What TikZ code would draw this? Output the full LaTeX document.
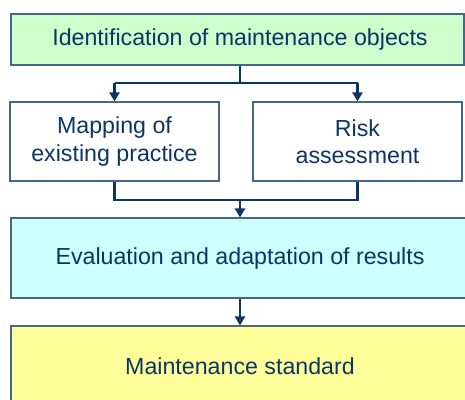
\documentclass[tikz,border=0pt]{standalone}
\usepackage{fontspec}
\setmainfont{Liberation Sans}
\usetikzlibrary{arrows.meta,calc}
\definecolor{navy}{HTML}{0B3564}
\definecolor{edge}{HTML}{46678A}
\definecolor{boxgreen}{HTML}{CCFFCC}
\definecolor{boxcyan}{HTML}{CCFFFF}
\definecolor{boxyellow}{HTML}{FFFF99}
\begin{document}
\begin{tikzpicture}[x=1pt,y=-1pt,
  stage/.style={draw=edge, line width=1.2pt, inner sep=0pt, text=navy,
    font=\fontsize{23.2}{27.5}\selectfont, align=center},
  flow/.style={draw=navy, line width=2.6pt,
    -{Triangle[width=10pt,length=9pt]}},
  linkline/.style={draw=navy, line width=2.6pt}]
\useasboundingbox (0,0) rectangle (465,399);
\clip (0,0) rectangle (465,399);

% process stages
\node[stage, fill=boxgreen, minimum width=453pt, minimum height=51pt]
  (ident) at (237.5,39.5) {\hspace*{5pt}Identification of maintenance objects};
\node[stage, fill=white, minimum width=209pt, minimum height=79pt]
  (map) at (114.5,141.5) {Mapping of\\existing practice};
\node[stage, fill=white, minimum width=209pt, minimum height=79pt]
  (risk) at (357.5,141.5) {Risk\\assessment};
\node[stage, fill=boxcyan, minimum width=458pt, minimum height=80pt]
  (eval) at (240,258) {Evaluation and adaptation of results};
\node[stage, fill=boxyellow, minimum width=458pt, minimum height=81pt]
  (std) at (240,366.5) {Maintenance standard};

% branch from identification to the two analyses
\coordinate (split) at (240,83);
\draw[linkline] (ident.south -| eval.north) -- (split);
\draw[flow] (split -| map.north) -- (map.north);
\draw[flow] (split -| risk.north) -- (risk.north);
\draw[linkline] (split -| map.north) -- (split -| risk.north);

% merge of the analyses into evaluation
\coordinate (merge) at (240,200);
\draw[linkline] (map.south) -- (merge -| map.south) -- (merge -| risk.south) -- (risk.south);
\draw[flow] (merge) -- (eval.north);

% evaluation leads to the standard
\draw[flow] (eval.south) -- (std.north);
\end{tikzpicture}
\end{document}
